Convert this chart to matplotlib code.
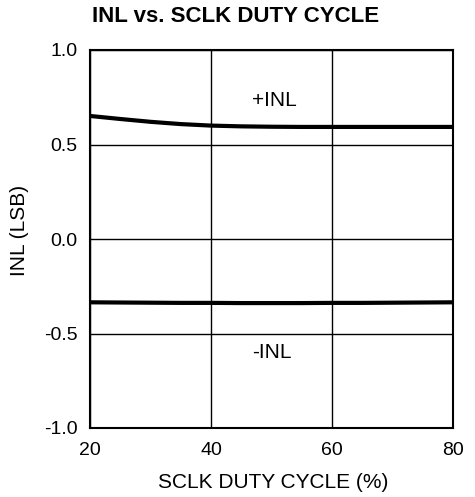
import numpy as np
import matplotlib.pyplot as plt

plt.rcParams['font.family'] = ['Liberation Sans', 'DejaVu Sans']

# Datos
duty = [20, 25, 30, 35, 40, 45, 50, 55, 60, 65, 70, 75, 80]
inl_pos = [0.651, 0.635, 0.620, 0.608, 0.600, 0.596, 0.594, 0.593, 0.593, 0.593, 0.593, 0.593, 0.593]
inl_neg = [-0.335, -0.336, -0.337, -0.338, -0.338, -0.339, -0.339, -0.339, -0.338, -0.338, -0.337, -0.336, -0.335]

xticks = [20, 40, 60, 80]
yticks = [-1.0, -0.5, 0.0, 0.5, 1.0]

fig = plt.figure(figsize=(4.75, 4.97), dpi=100)
ax = fig.add_axes([90/475, 1-428/497, (453-90)/475, (428-50)/497])

ax.plot(duty, inl_pos, color='k', linewidth=3)
ax.plot(duty, inl_neg, color='k', linewidth=3)

ax.set_xlim(20, 80)
ax.set_ylim(-1.0, 1.0)
ax.set_xticks(xticks)
ax.set_yticks(yticks)
ax.set_yticklabels(['%.1f' % v for v in yticks])
ax.grid(True, color='k', linewidth=1)
ax.tick_params(length=0, labelsize=14)
ax.tick_params(axis='y', pad=9)
ax.tick_params(axis='x', pad=10)
for s in ax.spines.values():
    s.set_linewidth(1.5)

ax.text(50.5, 0.735, '+INL', ha='center', va='center', fontsize=15)
ax.text(50, -0.598, '-INL', ha='center', va='center', fontsize=15)

ax.set_xlabel('SCLK DUTY CYCLE (%)', fontsize=15, va='center')
ax.xaxis.set_label_coords((273-90)/363, (428-482)/378)
ax.set_ylabel('INL (LSB)', fontsize=15, va='center')
ax.yaxis.set_label_coords((20-90)/363, (428-230)/378)
fig.text(236/475, 1-17/497, 'INL vs. SCLK DUTY CYCLE', ha='center', va='center',
         fontsize=16, fontweight='bold')

plt.savefig('out.png')
